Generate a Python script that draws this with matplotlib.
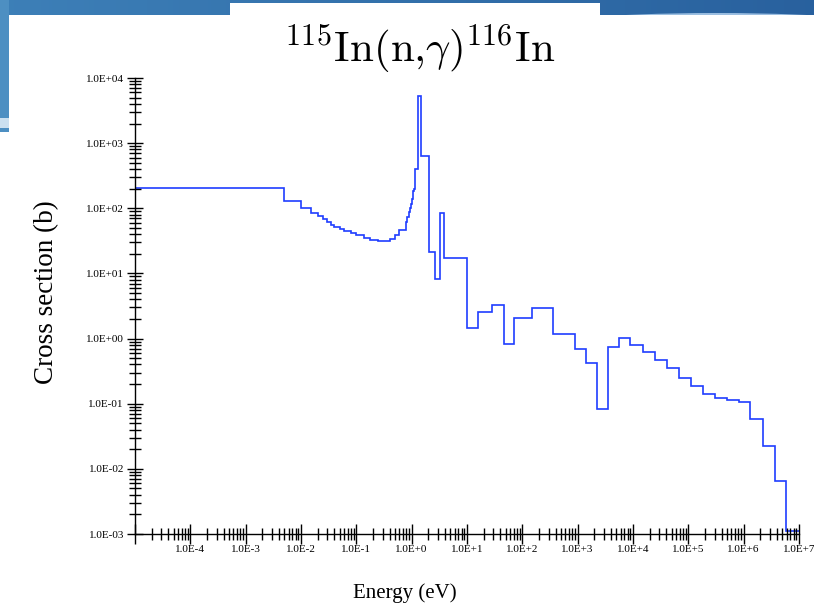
import numpy as np
import matplotlib
matplotlib.use('Agg')
import matplotlib.pyplot as plt
from matplotlib.patches import Rectangle, Ellipse
from matplotlib.ticker import LogLocator, FuncFormatter, NullFormatter

# group boundaries (eV)
energy_edges = [1e-5, 5e-3, 1e-2, 1.5e-2, 2e-2, 2.5e-2, 3e-2, 3.5e-2, 4e-2, 5e-2,
                6e-2, 7e-2, 8e-2, 0.1, 0.135, 0.18, 0.25, 0.35, 0.4, 0.5,
                0.6, 0.8, 0.83, 0.9, 0.93, 0.97, 1.02, 1.07, 1.1, 1.15,
                1.28, 1.46, 2.07, 2.63, 3.24, 3.87, 10, 15.7, 28, 47,
                71, 147, 361, 908, 1425, 2250, 3515, 5500, 8890, 15070,
                24500, 40400, 67900, 1.11e5, 1.81e5, 3.05e5, 5.02e5, 8.07e5, 1.31e6, 2.22e6,
                3.65e6, 5.94e6, 1e7]

# group-averaged capture cross section (b)
cross_section = [208, 128, 100, 83.8, 76.4, 67.7, 61.8, 55.5, 51.7, 48.7,
                 45.3, 44.2, 41.2, 38.4, 35.0, 32.6, 31.0, 31.8, 33.3, 38.6,
                 46.5, 62.4, 72.7, 86.9, 100, 117, 140, 181, 199, 405,
                 5340, 634, 21.5, 8.16, 84.4, 17.2, 1.47, 2.58, 3.31, 0.84,
                 2.07, 2.92, 1.18, 0.68, 0.415, 0.0817, 0.752, 1.03, 0.81, 0.63,
                 0.477, 0.35, 0.248, 0.187, 0.143, 0.124, 0.116, 0.108, 0.058, 0.0225,
                 0.0065, 0.0011]

W, H = 814, 606
fig = plt.figure(figsize=(W / 100, H / 100), dpi=100)
fig.patch.set_facecolor('white')

# slide background: blue band on top, strip on the left, white box under the title
def px_rect(x0, y0, x1, y1, color, **kw):
    fig.patches.append(Rectangle((x0 / W, 1 - y1 / H), (x1 - x0) / W, (y1 - y0) / H,
                                 transform=fig.transFigure, facecolor=color,
                                 edgecolor='none', zorder=0, **kw))

band = fig.add_axes([0, 1 - 20 / H, 1, 20 / H], zorder=0)
grad = np.linspace(0, 1, 400)
left_c = np.array([0.24, 0.50, 0.72])
right_c = np.array([0.16, 0.38, 0.62])
img = left_c[None, :] * (1 - grad[:, None]) + right_c[None, :] * grad[:, None]
band.imshow(img[None, :, :], aspect='auto', extent=[0, 1, 0, 1])
band.add_patch(Ellipse((0.88, -0.6), 0.5, 1.9, facecolor=(0.72, 0.84, 0.95), edgecolor='none', alpha=0.8))
band.add_patch(Ellipse((0.90, -0.9), 0.56, 1.9, facecolor='white', edgecolor='none'))
band.set_xlim(0, 1)
band.set_ylim(0, 1)
band.axis('off')

px_rect(0, 0, 9, 132, (0.30, 0.56, 0.76))
px_rect(0, 118, 9, 128, (0.80, 0.88, 0.94))
px_rect(9, 15, W, H, 'white')
px_rect(230, 3, 600, 20, 'white')

ax = fig.add_axes([135 / W, 1 - 534 / H, (799 - 135) / W, (534 - 78) / H], zorder=2)
ax.patch.set_alpha(0)

ax.stairs(cross_section, energy_edges, baseline=None, color='#1f3dff', linewidth=1.2)

ax.set_xscale('log')
ax.set_yscale('log')
ax.set_xlim(1e-5, 1e7)
ax.set_ylim(1e-3, 1e4)

for side in ['top', 'right']:
    ax.spines[side].set_visible(False)
for side in ['left', 'bottom']:
    ax.spines[side].set_linewidth(1.0)

ax.xaxis.set_major_locator(LogLocator(base=10, numticks=20))
ax.xaxis.set_minor_locator(LogLocator(base=10, subs=np.arange(2, 10), numticks=20))
ax.yaxis.set_major_locator(LogLocator(base=10, numticks=20))
ax.yaxis.set_minor_locator(LogLocator(base=10, subs=np.arange(2, 10), numticks=20))


def x_fmt(v, pos):
    e = int(round(np.log10(v)))
    return '' if e <= -5 else f'1.0E{e:+d}'


def y_fmt(v, pos):
    e = int(round(np.log10(v)))
    return f'1.0E{e:+03d}'


ax.xaxis.set_major_formatter(FuncFormatter(x_fmt))
ax.yaxis.set_major_formatter(FuncFormatter(y_fmt))
ax.xaxis.set_minor_formatter(NullFormatter())
ax.yaxis.set_minor_formatter(NullFormatter())

ax.tick_params(axis='x', which='major', direction='inout', length=14, width=1, pad=1)
ax.tick_params(axis='x', which='minor', direction='inout', length=8, width=1)
ax.tick_params(axis='y', which='major', direction='inout', length=12, width=1, pad=2)
ax.tick_params(axis='y', which='minor', direction='inout', length=8, width=1)
for lab in ax.get_xticklabels() + ax.get_yticklabels():
    lab.set_fontfamily('Liberation Serif')
    lab.set_fontsize(8)

plt.rcParams['mathtext.fontset'] = 'cm'
fig.text(420 / W, 1 - 62 / H, r'$^{115}\mathrm{In}(\mathrm{n}{,}\gamma)^{116}\mathrm{In}$',
         ha='center', va='baseline', fontsize=31, zorder=3)

fig.text(47 / W, 1 - 292 / H, 'Cross section (b)', rotation=90, ha='center', va='center',
         fontfamily='Liberation Serif', fontsize=19.5)
fig.text(405 / W, 1 - 593 / H, 'Energy (eV)', ha='center', va='center',
         fontfamily='Liberation Serif', fontsize=15)

fig.savefig('out.png', dpi=100)
